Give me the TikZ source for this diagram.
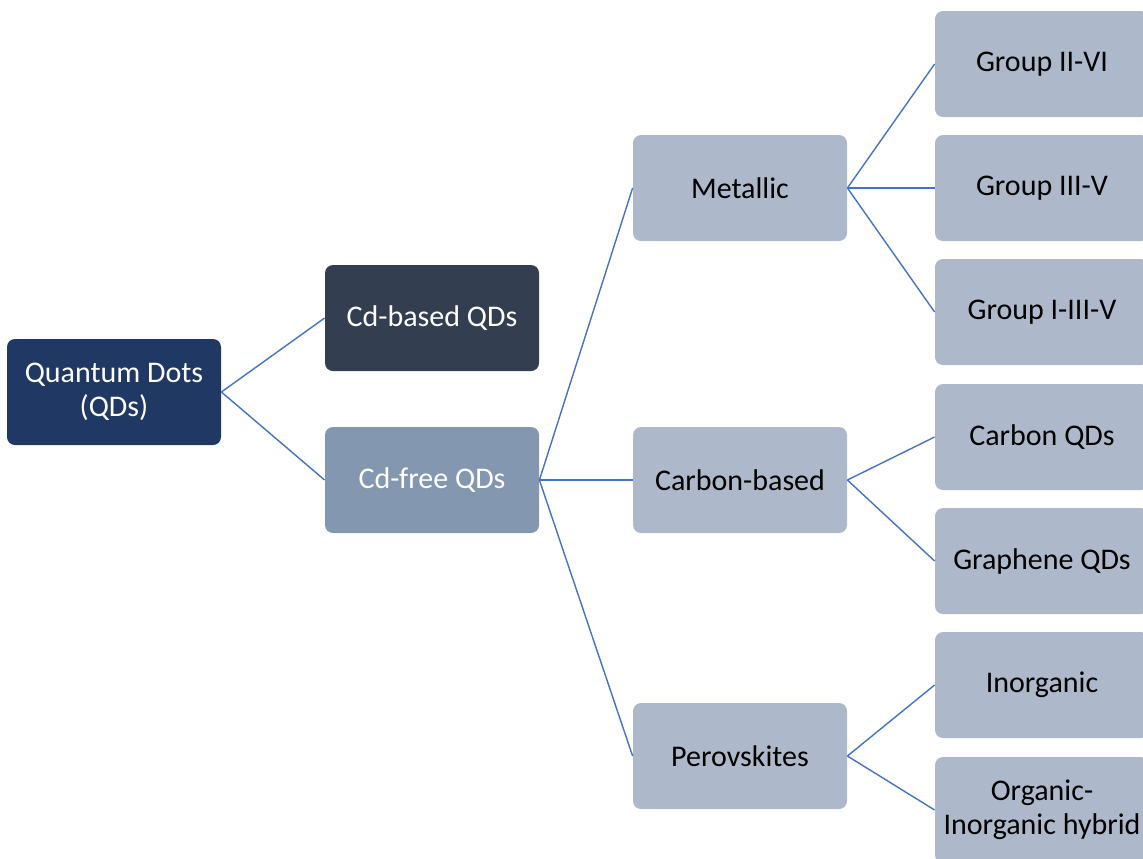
\documentclass[tikz,border=0pt]{standalone}
\usepackage{fontspec}
\setmainfont{Carlito}
\definecolor{cQD}{HTML}{203864}
\definecolor{cCdB}{HTML}{333F50}
\definecolor{cCdF}{HTML}{8497B0}
\definecolor{cLight}{HTML}{ADB9CA}
\definecolor{cLine}{HTML}{4472C4}
\tikzset{
  box/.style={rectangle, rounded corners=4pt, minimum width=107pt, minimum height=53pt,
    inner sep=0pt, align=center, font=\fontsize{15}{17}\selectfont, text=black, fill=cLight},
  darkbox/.style={box, text=white},
  link/.style={draw=cLine, line width=0.7pt}
}
\begin{document}
\begin{tikzpicture}[x=0.5pt,y=-0.5pt]
\useasboundingbox (0,0) rectangle (1143,858);
\clip (0,0) rectangle (1143,858);
\node[darkbox, fill=cQD] (qd) at (114,392) {Quantum Dots\\(QDs)};
\node[darkbox, fill=cCdB] (cdb) at (432,318) {Cd-based QDs};
\node[darkbox, fill=cCdF] (cdf) at (432,480) {Cd-free QDs};
\node[box] (met) at (740,188) {Metallic};
\node[box] (carb) at (740,480) {Carbon-based};
\node[box] (per) at (740,756) {Perovskites};
\node[box] (g26) at (1042,64) {Group II-VI};
\node[box] (g35) at (1042,188) {Group III-V};
\node[box] (g135) at (1042,312) {Group I-III-V};
\node[box] (cqd) at (1042,437) {Carbon QDs};
\node[box] (gqd) at (1042,561) {Graphene QDs};
\node[box] (inorg) at (1042,685) {Inorganic};
\node[box] (hyb) at (1042,810) {Organic-\\Inorganic hybrid};
\draw[link] (qd.east) -- (cdb.west);
\draw[link] (qd.east) -- (cdf.west);
\draw[link] (cdf.east) -- (met.west);
\draw[link] (cdf.east) -- (carb.west);
\draw[link] (cdf.east) -- (per.west);
\draw[link] (met.east) -- (g26.west);
\draw[link] (met.east) -- (g35.west);
\draw[link] (met.east) -- (g135.west);
\draw[link] (carb.east) -- (cqd.west);
\draw[link] (carb.east) -- (gqd.west);
\draw[link] (per.east) -- (inorg.west);
\draw[link] (per.east) -- (hyb.west);
\end{tikzpicture}
\end{document}
